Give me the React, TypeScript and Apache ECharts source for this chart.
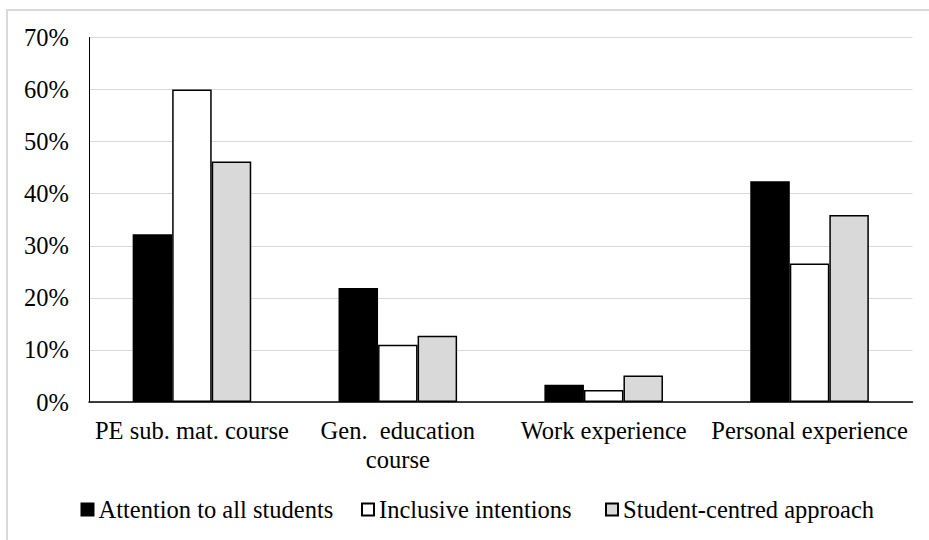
import React, { useEffect, useRef } from "react";
import * as echarts from "echarts";

const categories = [
  "PE sub. mat. course",
  "Gen.  education\ncourse",
  "Work experience",
  "Personal experience",
];
const attentionToAll = [32.2, 21.9, 3.3, 42.4];
const inclusiveIntentions = [60.0, 11.0, 2.3, 26.6];
const studentCentred = [46.2, 12.7, 5.1, 35.9];
const seriesNames = [
  "Attention to all students",
  "Inclusive intentions",
  "Student-centred approach",
];

const FONT = "Liberation Serif";
const FS = 24.5;
const legendLefts = [80.5, 361, 605];

export default function App() {
  const ref = useRef<HTMLDivElement>(null);
  useEffect(() => {
    if (!ref.current) return;
    const chart = echarts.init(ref.current, null, { renderer: "svg" });
    const barStyle = (fill: string) => ({
      color: fill,
      borderColor: "#000",
      borderWidth: 1.5,
    });
    chart.setOption({
      animation: false,
      backgroundColor: "#fff",
      textStyle: { fontFamily: FONT },
      graphic: [
        {
          type: "rect",
          shape: { x: 7, y: 10, width: 940, height: 560 },
          style: { fill: "none", stroke: "#d9d9d9", lineWidth: 2 },
          silent: true,
          z: -1,
        },
      ],
      grid: {
        left: 89,
        right: 16.5,
        top: 37.5,
        bottom: 138,
        containLabel: false,
        outerBoundsMode: "none",
      },
      legend: seriesNames.map((name, i) => ({
        left: legendLefts[i],
        top: 497,
        padding: 0,
        itemGap: 0,
        itemWidth: 12,
        itemHeight: 12,
        icon: "rect",
        textStyle: {
          fontFamily: FONT,
          fontSize: FS,
          color: "#000",
        },
        data: [name],
      })),
      xAxis: {
        type: "category",
        data: categories,
        axisLine: { show: true, lineStyle: { color: "#000", width: 1.5 } },
        axisTick: { show: false },
        axisLabel: {
          interval: 0,
          margin: 14,
          fontFamily: FONT,
          fontSize: FS,
          lineHeight: 29,
          color: "#000",
        },
      },
      yAxis: {
        type: "value",
        min: 0,
        max: 70,
        interval: 10,
        axisLine: { show: true, lineStyle: { color: "#000", width: 1 } },
        axisTick: { show: false },
        splitLine: { show: true, lineStyle: { color: "#d9d9d9", width: 1.2 } },
        axisLabel: {
          formatter: "{value}%",
          margin: 20,
          fontFamily: FONT,
          fontSize: FS,
          color: "#000",
        },
      },
      series: [
        {
          name: seriesNames[0],
          type: "bar",
          data: attentionToAll,
          barWidth: "19.2%",
          barGap: "0%",
          itemStyle: barStyle("#000000"),
        },
        {
          name: seriesNames[1],
          type: "bar",
          data: inclusiveIntentions,
          barWidth: "19.2%",
          barGap: "0%",
          itemStyle: barStyle("#ffffff"),
        },
        {
          name: seriesNames[2],
          type: "bar",
          data: studentCentred,
          barWidth: "19.2%",
          barGap: "0%",
          itemStyle: barStyle("#d9d9d9"),
        },
      ],
    });
    return () => chart.dispose();
  }, []);
  return (
    <div
      ref={ref}
      style={{ position: "absolute", left: 0, top: 0, width: 929, height: 540 }}
    />
  );
}
